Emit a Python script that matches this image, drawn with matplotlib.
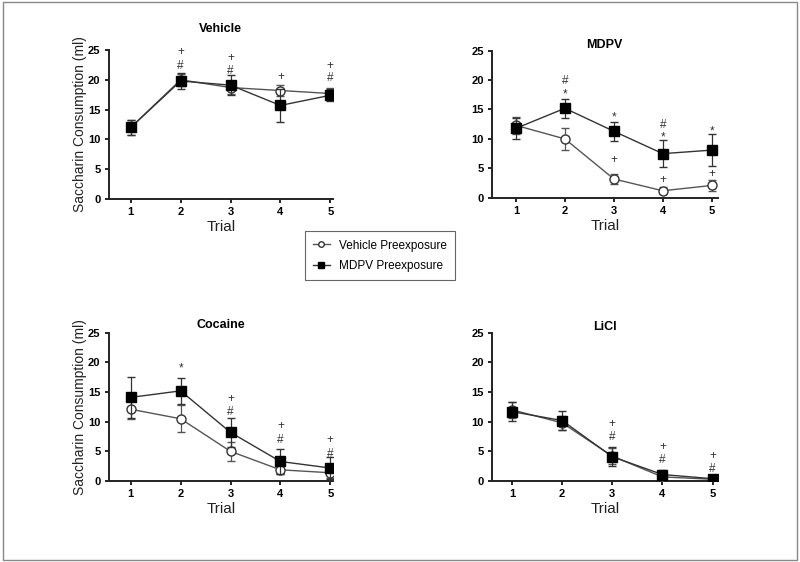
import matplotlib
matplotlib.use("Agg")
import matplotlib.pyplot as plt
from matplotlib.patches import Rectangle
from matplotlib.lines import Line2D

plt.rcParams['font.family'] = ['Liberation Sans', 'DejaVu Sans']

trials = [1, 2, 3, 4, 5]
panels = ['Vehicle', 'MDPV', 'Cocaine', 'LiCl']

# mean saccharin consumption (ml) and SEM, per panel
veh_mean = {
    'Vehicle': [12.0, 20.0, 18.7, 18.2, 17.7],
    'MDPV':    [12.3, 10.0, 3.2, 1.2, 2.1],
    'Cocaine': [12.1, 10.5, 5.0, 1.9, 1.4],
    'LiCl':    [12.0, 9.8, 4.2, 0.7, 0.3],
}
veh_err = {
    'Vehicle': [1.2, 1.0, 1.1, 0.9, 1.0],
    'MDPV':    [1.4, 1.9, 0.9, 0.6, 1.0],
    'Cocaine': [1.6, 2.3, 1.6, 0.7, 0.8],
    'LiCl':    [1.4, 1.2, 1.4, 0.5, 0.2],
}
mdpv_mean = {
    'Vehicle': [12.0, 19.8, 19.1, 15.7, 17.4],
    'MDPV':    [11.8, 15.2, 11.3, 7.5, 8.1],
    'Cocaine': [14.1, 15.2, 8.2, 3.3, 2.2],
    'LiCl':    [11.7, 10.2, 4.1, 1.1, 0.4],
}
mdpv_err = {
    'Vehicle': [1.2, 1.4, 1.7, 2.7, 1.0],
    'MDPV':    [1.8, 1.6, 1.6, 2.3, 2.7],
    'Cocaine': [3.5, 2.2, 2.4, 2.1, 1.8],
    'LiCl':    [1.6, 1.6, 1.6, 0.7, 0.3],
}
# significance marks: (trial, y, symbol)
marks = {
    'Vehicle': [(2, 24.6, '+'), (2, 22.3, '#'), (3, 23.6, '+'), (3, 21.5, '#'),
                (4, 20.4, '+'), (5, 22.4, '+'), (5, 20.3, '#')],
    'MDPV':    [(2, 19.8, '#'), (2, 17.6, '*'), (3, 13.6, '*'), (3, 6.4, '+'),
                (4, 12.4, '#'), (4, 10.2, '*'), (4, 3.1, '+'), (5, 11.2, '*'), (5, 4.0, '+')],
    'Cocaine': [(2, 19.0, '*'), (3, 13.9, '+'), (3, 11.7, '#'), (4, 9.2, '+'),
                (4, 7.0, '#'), (5, 6.9, '+'), (5, 4.6, '#')],
    'LiCl':    [(3, 9.6, '+'), (3, 7.5, '#'), (4, 5.7, '+'), (4, 3.5, '#'),
                (5, 4.3, '+'), (5, 2.1, '#')],
}

fig = plt.figure(figsize=(8, 5.62), dpi=100)
fig.patches.append(Rectangle((0.004, 0.004), 0.992, 0.992, transform=fig.transFigure,
                             fill=False, edgecolor='#888888', lw=1))

positions = {
    'Vehicle': [0.136, 0.646, 0.280, 0.265],
    'MDPV':    [0.615, 0.648, 0.282, 0.262],
    'Cocaine': [0.136, 0.144, 0.280, 0.264],
    'LiCl':    [0.615, 0.144, 0.282, 0.264],
}
xlims = {'Vehicle': (0.56, 5.05), 'MDPV': (0.51, 5.12),
         'Cocaine': (0.56, 5.05), 'LiCl': (0.6, 5.1)}
title_pads = {'Vehicle': 13, 'MDPV': 1, 'Cocaine': 3.5, 'LiCl': 0.5}

line_c = '#333333'
for name in panels:
    ax = fig.add_axes(positions[name])
    ax.errorbar(trials, veh_mean[name], yerr=veh_err[name], color='#555555', lw=1,
                marker='o', ms=6.5, mfc='white', mec='#333333', mew=1,
                capsize=3, elinewidth=0.9, ecolor='#555555', zorder=3)
    ax.errorbar(trials, mdpv_mean[name], yerr=mdpv_err[name], color=line_c, lw=1,
                marker='s', ms=6.5, mfc='black', mec='black',
                capsize=3, elinewidth=0.9, ecolor='#333333', zorder=4)
    for t, y, s in marks[name]:
        ax.text(t, y, s, ha='center', va='center', fontsize=8.5, color='#333333')
    ax.set_xlim(*xlims[name])
    ax.set_ylim(0, 25)
    ax.set_xticks(trials)
    ax.set_yticks([0, 5, 10, 15, 20, 25])
    for sp in ['top', 'right']:
        ax.spines[sp].set_visible(False)
    for sp in ['left', 'bottom']:
        ax.spines[sp].set_linewidth(1.4)
        ax.spines[sp].set_color('#222222')
    ax.tick_params(direction='out', length=3, width=1.2, labelsize=8, pad=3)
    for lab in ax.get_xticklabels() + ax.get_yticklabels():
        lab.set_fontweight('bold')
    ax.set_xlabel('Trial', fontsize=11, labelpad=2, color='#222222')
    if name in ('Vehicle', 'Cocaine'):
        ax.set_ylabel('Saccharin Consumption (ml)', fontsize=10, color='#222222', labelpad=1)
    ax.set_title(name, fontsize=9, fontweight='bold', pad=title_pads[name])

handles = [
    Line2D([], [], color='#555555', lw=1, marker='o', ms=4, mfc='white', mec='#333333'),
    Line2D([], [], color='#333333', lw=1, marker='s', ms=4, mfc='black', mec='black'),
]
labels = ['Vehicle Preexposure', 'MDPV Preexposure']
leg = fig.legend(handles, labels, loc='center', bbox_to_anchor=(0.475, 0.545),
                 fancybox=False, edgecolor='#666666', fontsize=8.5, handlelength=1.4,
                 framealpha=1, borderpad=0.7, labelspacing=0.7)
leg.get_frame().set_linewidth(0.8)

fig.savefig('out.png', dpi=100)
